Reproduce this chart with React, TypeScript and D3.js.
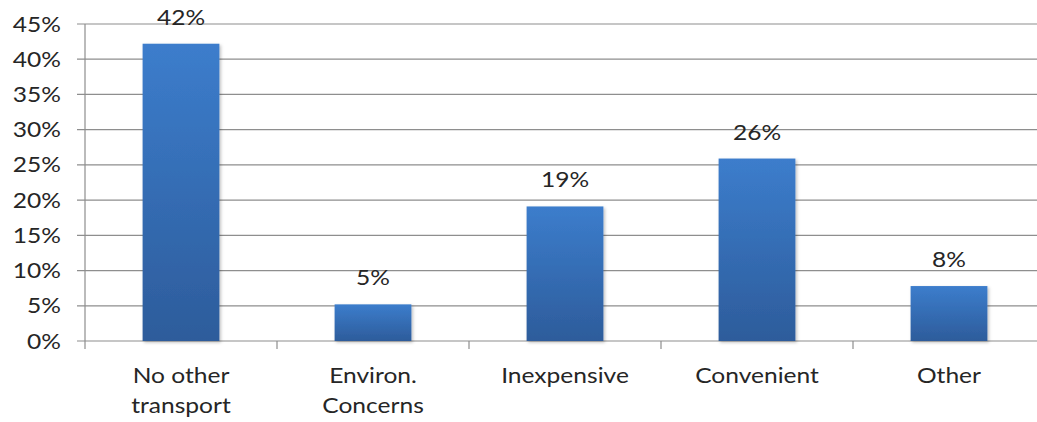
import React from "react";
import * as d3 from "d3";

const categories: string[][] = [
  ["No other", "transport"],
  ["Environ.", "Concerns"],
  ["Inexpensive"],
  ["Convenient"],
  ["Other"],
];
const values: number[] = [0.422, 0.052, 0.191, 0.259, 0.078];
const yTicks: number[] = [0, 0.05, 0.1, 0.15, 0.2, 0.25, 0.3, 0.35, 0.4, 0.45];

const W = 1037;
const H = 422;
const left = 85;
const right = 1045;
const top = 24;
const bottom = 341;
const FONT = "Lato, 'Open Sans', sans-serif";
const FS = 21;
const SX = 1.17;

function T(props: { x: number; y: number; anchor: string; children: React.ReactNode; dy?: string }) {
  return (
    <g transform={`translate(${props.x},${props.y}) scale(${SX},1)`}>
      <text
        x={0}
        y={0}
        dy={props.dy}
        textAnchor={props.anchor}
        fontFamily={FONT}
        fontSize={FS}
        fill="#262626"
      >
        {props.children}
      </text>
    </g>
  );
}

export default function App() {
  const keys = categories.map((_, i) => String(i));
  const x = d3.scaleBand<string>().domain(keys).range([left, right]).paddingInner(0.6).paddingOuter(0.3);
  const xb = d3.scaleBand<string>().domain(keys).range([left, right]).padding(0);
  const y = d3.scaleLinear().domain([0, 0.45]).range([bottom, top]);
  const pct = d3.format(".0%");
  const gridColor = "#8e8e8e";

  return (
    <svg
      width={W}
      height={H}
      style={{ position: "absolute", left: 0, top: 0, background: "#fff" }}
    >
      <defs>
        <linearGradient id="barGrad" x1="0" y1="0" x2="0" y2="1">
          <stop offset="0%" stopColor="#3c7dcc" />
          <stop offset="100%" stopColor="#2d5c9b" />
        </linearGradient>
        <filter id="shadow" x="-10%" y="-10%" width="130%" height="130%">
          <feDropShadow dx="1.5" dy="1.5" stdDeviation="1.5" floodColor="#000" floodOpacity="0.25" />
        </filter>
      </defs>
      {yTicks.map((t) => (
        <g key={t}>
          <line x1={left - 8} x2={right} y1={y(t)} y2={y(t)} stroke={gridColor} strokeWidth={1.2} />
          <T x={61} y={y(t)} dy="0.36em" anchor="end">
            {pct(t)}
          </T>
        </g>
      ))}
      <line x1={left} x2={left} y1={top} y2={bottom + 8} stroke={gridColor} strokeWidth={1.2} />
      {keys.map((k) => (
        <line
          key={"t" + k}
          x1={(xb(k) as number) + xb.bandwidth()}
          x2={(xb(k) as number) + xb.bandwidth()}
          y1={bottom}
          y2={bottom + 8}
          stroke={gridColor}
          strokeWidth={1.2}
        />
      ))}
      {values.map((v, i) => (
        <rect
          key={"b" + i}
          x={x(String(i))}
          y={y(v)}
          width={x.bandwidth()}
          height={bottom - y(v)}
          fill="url(#barGrad)"
          filter="url(#shadow)"
        />
      ))}
      {values.map((v, i) => (
        <T key={"v" + i} x={(x(String(i)) as number) + x.bandwidth() / 2} y={y(v) - 19} anchor="middle">
          {pct(v)}
        </T>
      ))}
      {categories.map((lines, i) =>
        lines.map((l, j) => (
          <T
            key={"c" + i + "-" + j}
            x={(xb(String(i)) as number) + xb.bandwidth() / 2}
            y={383 + j * 30}
            anchor="middle"
          >
            {l}
          </T>
        ))
      )}
    </svg>
  );
}
